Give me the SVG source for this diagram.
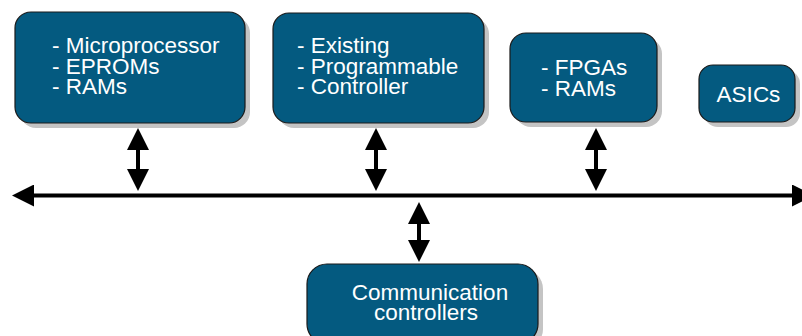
<svg xmlns="http://www.w3.org/2000/svg" width="802" height="336" viewBox="0 0 802 336">
<defs>
<style>
.box{fill:#045a80;stroke:#1a1a1a;stroke-width:1.2}
.sh{fill:#c4c4c4}
.t{fill:#ffffff;font-family:"Liberation Sans",Arial,Helvetica,sans-serif;font-size:22.5px}
.c{stroke:#000;stroke-width:4;fill:none;marker-start:url(#ah);marker-end:url(#ah)}
</style>
<marker id="ah" markerUnits="userSpaceOnUse" markerWidth="22" markerHeight="22" refX="0" refY="11" orient="auto-start-reverse" viewBox="0 0 22 22">
<path d="M0,0 L22,11 L0,22 z" fill="#000"/>
</marker>
</defs>
<rect width="802" height="336" fill="#ffffff"/>
<g id="connectors">
<line class="c" x1="34" y1="195.5" x2="792" y2="195.5"/>
<line class="c" x1="138" y1="150" x2="138" y2="169"/>
<line class="c" x1="376" y1="150" x2="376" y2="169"/>
<line class="c" x1="596" y1="150" x2="596" y2="169"/>
<line class="c" x1="419" y1="224" x2="419" y2="240"/>
</g>
<g id="microprocessor">
<rect class="sh" x="20" y="17" width="230" height="111" rx="16"/>
<rect class="box" x="15" y="12" width="230" height="111" rx="16"/>
<text class="t" x="52" y="53">- Microprocessor</text>
<text class="t" x="52" y="73.5">- EPROMs</text>
<text class="t" x="52" y="94">- RAMs</text>
</g>
<g id="existing">
<rect class="sh" x="278" y="18" width="211" height="110" rx="16"/>
<rect class="box" x="273" y="13" width="211" height="110" rx="16"/>
<text class="t" x="297" y="53">- Existing</text>
<text class="t" x="297" y="73.5">- Programmable</text>
<text class="t" x="297" y="94">- Controller</text>
</g>
<g id="fpgas">
<rect class="sh" x="515" y="38" width="147" height="89" rx="16"/>
<rect class="box" x="510" y="33" width="147" height="89" rx="16"/>
<text class="t" x="541" y="75">- FPGAs</text>
<text class="t" x="541" y="95.5">- RAMs</text>
</g>
<g id="asics">
<rect class="sh" x="704" y="70" width="96" height="57" rx="14"/>
<rect class="box" x="699" y="65" width="96" height="57" rx="14"/>
<text class="t" x="748.5" y="102" text-anchor="middle">ASICs</text>
</g>
<g id="communication">
<rect class="sh" x="312" y="269" width="231" height="80" rx="20"/>
<rect class="box" x="307" y="264" width="231" height="80" rx="20"/>
<text class="t" x="430" y="300" text-anchor="middle">Communication</text>
<text class="t" x="426" y="320" text-anchor="middle">controllers</text>
</g>
</svg>
